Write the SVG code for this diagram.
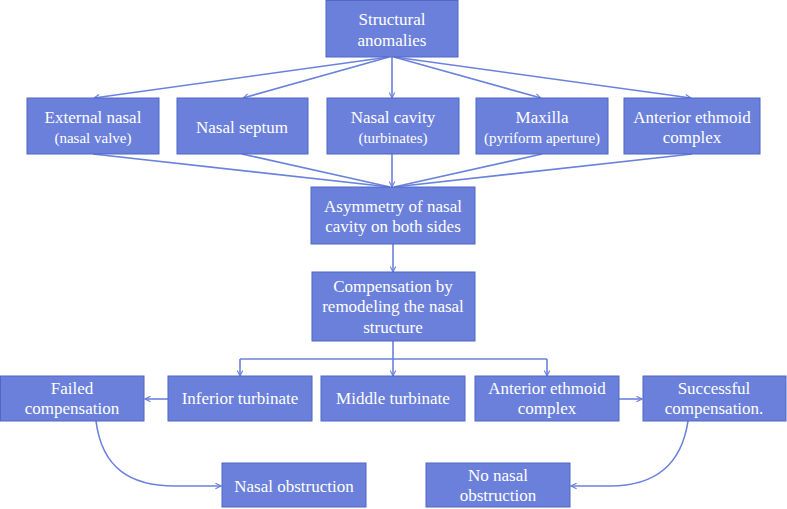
<svg xmlns="http://www.w3.org/2000/svg" width="787" height="509" viewBox="0 0 787 509">
<defs>
<style>
.n{fill:#6A80DB;stroke:#4F67C6;stroke-width:1}
.t{fill:#fff;font-size:17px;text-anchor:middle;font-family:'Liberation Serif',serif}
.s{font-size:15px}
.c{fill:none;stroke:#6A82DE;stroke-width:1.6}
</style>
<marker id="a" viewBox="0 0 10 10" refX="9" refY="5" markerWidth="7" markerHeight="7" orient="auto-start-reverse" markerUnits="userSpaceOnUse">
<path d="M1,1 L9,5 L1,9" fill="none" stroke="#6A82DE" stroke-width="1.6"/>
</marker>
</defs>
<rect width="787" height="509" fill="#fff"/>
<g id="connectors">
<path class="c" marker-end="url(#a)" d="M389,57 L94,98"/>
<path class="c" marker-end="url(#a)" d="M389,57 L243,98"/>
<path class="c" marker-end="url(#a)" d="M392,57 L392,98"/>
<path class="c" marker-end="url(#a)" d="M394,57 L541,98"/>
<path class="c" marker-end="url(#a)" d="M394,57 L691,98"/>
<path class="c" d="M93,154 L390,187"/>
<path class="c" d="M242,154 L390,187"/>
<path class="c" marker-end="url(#a)" d="M392,154 L392,187"/>
<path class="c" d="M542,154 L394,187"/>
<path class="c" d="M692,154 L394,187"/>
<path class="c" marker-end="url(#a)" d="M393,244 L393,272"/>
<path class="c" marker-end="url(#a)" d="M393,341 L393,376"/>
<path class="c" d="M393,359 L240,359"/>
<path class="c" d="M393,359 L547,359"/>
<path class="c" marker-end="url(#a)" d="M240,359 L240,376"/>
<path class="c" marker-end="url(#a)" d="M547,359 L547,376"/>
<path class="c" marker-end="url(#a)" d="M168,399 L145,399"/>
<path class="c" marker-end="url(#a)" d="M619,399 L642,399"/>
<path class="c" marker-end="url(#a)" d="M96,421 C102,468 130,486 175,486 L221,486"/>
<path class="c" marker-end="url(#a)" d="M688,421 C681,468 652,486 610,486 L571,486"/>
</g>
<g id="n-structural"><rect class="n" x="326" y="0.5" width="132" height="56.5"/><text class="t" x="392" y="25">Structural</text><text class="t" x="392" y="46">anomalies</text></g>
<g id="n-external"><rect class="n" x="27" y="98" width="132" height="56"/><text class="t" x="93" y="123">External nasal</text><text class="t s" x="93" y="143">(nasal valve)</text></g>
<g id="n-septum"><rect class="n" x="177" y="98" width="131" height="56"/><text class="t" x="242" y="133">Nasal septum</text></g>
<g id="n-cavity"><rect class="n" x="327" y="98" width="132" height="56"/><text class="t" x="393" y="123">Nasal cavity</text><text class="t s" x="393" y="143">(turbinates)</text></g>
<g id="n-maxilla"><rect class="n" x="476" y="98" width="132" height="56"/><text class="t" x="542" y="123">Maxilla</text><text class="t s" x="542" y="143">(pyriform aperture)</text></g>
<g id="n-ethmoid1"><rect class="n" x="624" y="98" width="136" height="56"/><text class="t" x="692" y="123">Anterior ethmoid</text><text class="t" x="692" y="143">complex</text></g>
<g id="n-asym"><rect class="n" x="311" y="187" width="164" height="57"/><text class="t" x="393" y="212">Asymmetry of nasal</text><text class="t" x="393" y="232">cavity on both sides</text></g>
<g id="n-comp"><rect class="n" x="312" y="272" width="163" height="69"/><text class="t" x="393" y="292">Compensation by</text><text class="t" x="393" y="312">remodeling the nasal</text><text class="t" x="393" y="333">structure</text></g>
<g id="n-failed"><rect class="n" x="0.5" y="376" width="143.5" height="45"/><text class="t" x="72" y="394">Failed</text><text class="t" x="72" y="414">compensation</text></g>
<g id="n-inferior"><rect class="n" x="168" y="376" width="144" height="45"/><text class="t" x="240" y="404">Inferior turbinate</text></g>
<g id="n-middle"><rect class="n" x="321" y="376" width="144" height="45"/><text class="t" x="393" y="404">Middle turbinate</text></g>
<g id="n-ethmoid2"><rect class="n" x="475" y="376" width="144" height="45"/><text class="t" x="547" y="394">Anterior ethmoid</text><text class="t" x="547" y="414">complex</text></g>
<g id="n-success"><rect class="n" x="643" y="376" width="143" height="45"/><text class="t" x="714" y="394">Successful</text><text class="t" x="714" y="414">compensation.</text></g>
<g id="n-obstruction"><rect class="n" x="222" y="463" width="144" height="44"/><text class="t" x="294" y="492">Nasal obstruction</text></g>
<g id="n-noobstruction"><rect class="n" x="426" y="463" width="144" height="44"/><text class="t" x="498" y="481">No nasal</text><text class="t" x="498" y="501">obstruction</text></g>
</svg>
